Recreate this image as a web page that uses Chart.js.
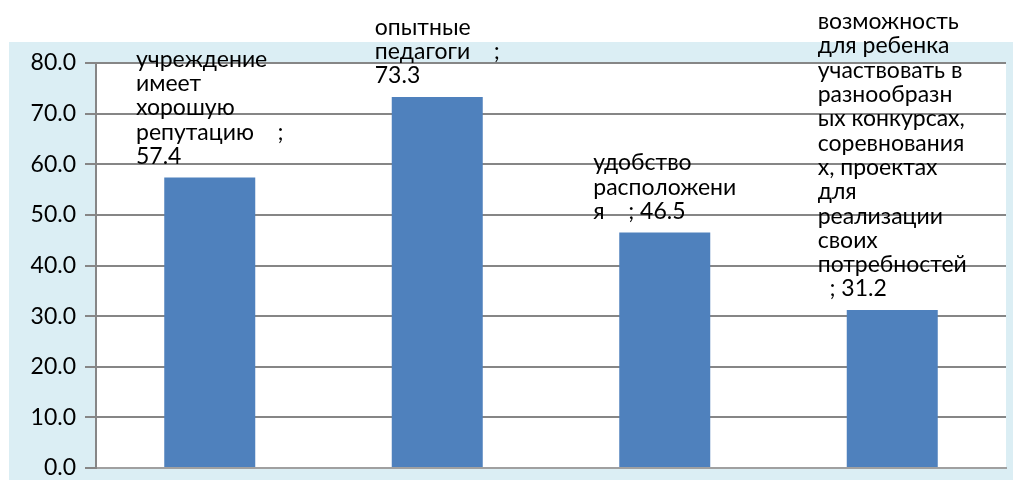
<!DOCTYPE html>
<html>
<head>
<meta charset="utf-8">
<script src="https://cdn.jsdelivr.net/npm/chart.js@4"></script>
<style>
    html, body { margin: 0; padding: 0; background: #ffffff; }
    #wrap { width: 1013px; height: 480px; }
</style>
</head>
<body>
<div id="wrap"><canvas id="chart" width="1013" height="480"></canvas></div>
<script>
const categories = [
    'учреждение имеет хорошую репутацию',
    'опытные педагоги',
    'удобство расположения',
    'возможность для ребенка участвовать в разнообразных конкурсах, соревнованиях, проектах для реализации своих потребностей'
];
const values = [57.4, 73.3, 46.5, 31.2];
// label lines as they wrap in the picture; the value goes at the end of the last line
const labelLines = [
    ['учреждение', 'имеет', 'хорошую', 'репутацию    ;', ''],
    ['опытные', 'педагоги    ;', ''],
    ['удобство', 'расположени', 'я    ; '],
    ['возможность', 'для ребенка', 'участвовать в', 'разнообразн', 'ых конкурсах,', 'соревнования', 'х, проектах', 'для', 'реализации', 'своих', 'потребностей', '  ; ']
];
const yTicks = [0, 10, 20, 30, 40, 50, 60, 70, 80];

const FONT = 'Lato, "Liberation Sans", sans-serif';

const backdrop = {
    id: 'backdrop',
    beforeDraw(chart) {
        const ctx = chart.ctx;
        const a = chart.chartArea;
        ctx.save();
        ctx.fillStyle = '#dbeef4';
        ctx.fillRect(9, 42, chart.width - 9, chart.height - 42);
        ctx.fillStyle = '#ffffff';
        ctx.fillRect(a.left, a.top, a.right - a.left, a.bottom - a.top);
        ctx.restore();
    }
};

const barLabels = {
    id: 'barLabels',
    afterDatasetsDraw(chart) {
        const ctx = chart.ctx;
        const meta = chart.getDatasetMeta(0);
        ctx.save();
        ctx.font = '23px ' + FONT;
        ctx.fillStyle = '#000000';
        ctx.textAlign = 'left';
        ctx.textBaseline = 'middle';
        meta.data.forEach((bar, i) => {
            const lines = labelLines[i].slice();
            lines[lines.length - 1] += values[i].toFixed(1);
            const w = Math.max(...lines.map(l => ctx.measureText(l).width));
            const left = bar.x - w / 2;
            const n = lines.length;
            lines.forEach((l, j) => {
                ctx.fillText(l, left, bar.y - 21 - (n - 1 - j) * 24.3);
            });
        });
        ctx.restore();
    }
};

new Chart(document.getElementById('chart'), {
    type: 'bar',
    data: {
        labels: categories,
        datasets: [{
            data: values,
            backgroundColor: '#4f81bd',
            categoryPercentage: 1,
            barPercentage: 0.4
        }]
    },
    options: {
        responsive: false,
        animation: false,
        layout: { padding: { top: 63, right: 7, bottom: 12, left: 0 } },
        plugins: {
            legend: { display: false },
            tooltip: { enabled: false }
        },
        scales: {
            x: {
                ticks: { display: false },
                grid: { display: false, drawTicks: false },
                border: { display: true, color: '#a0a0a0', width: 2 },
                afterFit(scale) { scale.height = 0; }
            },
            y: {
                min: 0,
                max: 80,
                afterBuildTicks(scale) { scale.ticks = yTicks.map(v => ({ value: v })); },
                ticks: {
                    padding: 9,
                    color: '#000000',
                    font: { family: FONT, size: 23 },
                    callback: v => Number(v).toFixed(1)
                },
                grid: { color: '#868686', lineWidth: 2, tickLength: 11 },
                border: { display: true, color: '#868686', width: 2 },
                afterFit(scale) {
                    scale.width = 96;
                    scale.paddingTop = 0;
                    scale.paddingBottom = 0;
                }
            }
        }
    },
    plugins: [backdrop, barLabels]
});
</script>
</body>
</html>
